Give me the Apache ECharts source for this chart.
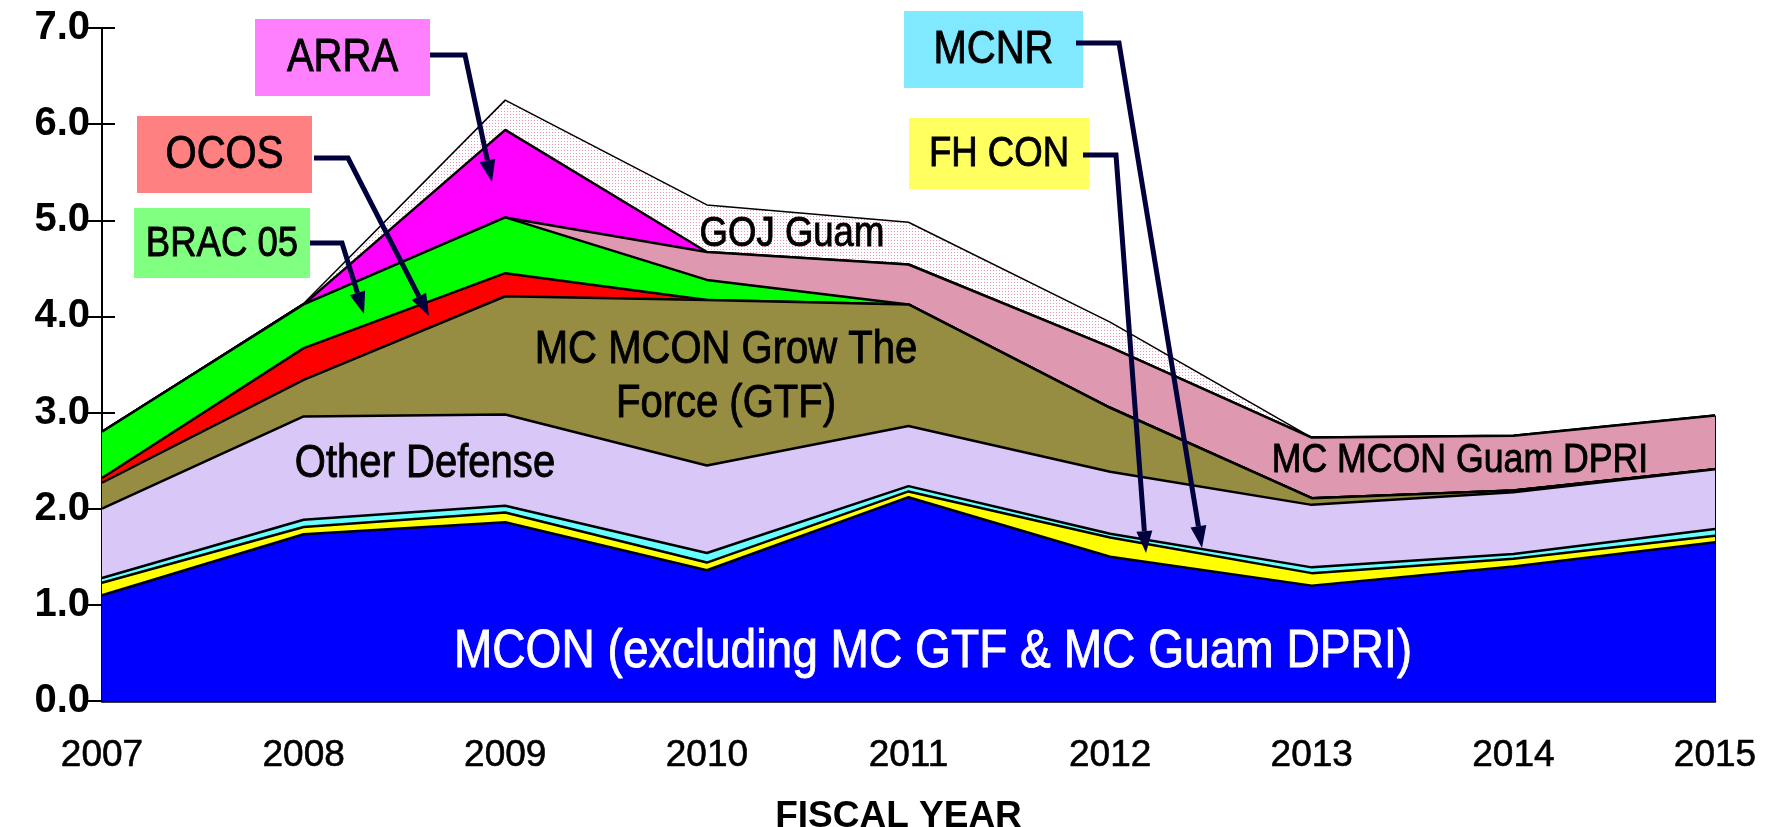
<!DOCTYPE html>
<html>
<head>
<meta charset="utf-8">
<script src="https://cdn.jsdelivr.net/npm/echarts@6/dist/echarts.min.js"></script>
<style>
html, body { margin: 0; padding: 0; background: #fff; }
#chart { width: 1771px; height: 827px; }
</style>
</head>
<body>
<div id="chart"></div>
<script>
// fiscal years and stacked layers, bottom to top (billions)
const years = ['2007', '2008', '2009', '2010', '2011', '2012', '2013', '2014', '2015']
const mcon =         [1.10, 1.735, 1.86, 1.36, 2.12, 1.50, 1.20, 1.40, 1.65]
const fhCon =        [0.13, 0.075, 0.10, 0.08, 0.06, 0.20, 0.13, 0.08, 0.07]
const mcnr =         [0.05, 0.075, 0.07, 0.10, 0.055, 0.04, 0.06, 0.05, 0.07]
const otherDefense = [0.72, 1.075, 0.95, 0.91, 0.625, 0.645, 0.65, 0.64, 0.62]
const gtf =          [0.27, 0.38, 1.23, 1.72, 1.265, 0.665, 0.07, 0.02, 0]
const ocos =         [0.05, 0.33, 0.24, 0, 0, 0, 0, 0, 0]
const brac05 =       [0.48, 0.455, 0.58, 0.21, 0, 0, 0, 0, 0]
const guamDpri =     [0, 0, 0, 0.29, 0.415, 0.63, 0.63, 0.57, 0.56]
const arra =         [0, 0, 0.91, 0, 0, 0, 0, 0, 0]
const gojGuam =      [0, 0.01, 0.31, 0.49, 0.44, 0.26, 0, 0, 0]
const yTicks = ['0.0', '1.0', '2.0', '3.0', '4.0', '5.0', '6.0', '7.0']

const font = '"Liberation Sans", Arial, sans-serif'
const squeeze = 0.87 // narrow look, like the original's condensed face

// dotted fill for GOJ Guam
const dots = document.createElement('canvas')
dots.width = 3
dots.height = 3
const dctx = dots.getContext('2d')
dctx.fillStyle = '#ffffff'
dctx.fillRect(0, 0, 3, 3)
dctx.fillStyle = '#e596b2'
dctx.fillRect(0, 0, 1, 1)

const layers = [
  { name: 'MCON', data: mcon, color: '#0000ff' },
  { name: 'FH CON', data: fhCon, color: '#ffff00' },
  { name: 'MCNR', data: mcnr, color: '#66ffff' },
  { name: 'Other Defense', data: otherDefense, color: '#d9c7f8' },
  { name: 'MC MCON GTF', data: gtf, color: '#968c42' },
  { name: 'OCOS', data: ocos, color: '#ff0000' },
  { name: 'BRAC 05', data: brac05, color: '#00ff00' },
  { name: 'MC MCON Guam DPRI', data: guamDpri, color: '#de99b1' },
  { name: 'ARRA', data: arra, color: '#ff00ff' },
  { name: 'GOJ Guam', data: gojGuam, color: { image: dots, repeat: 'repeat' } },
]

const total2015 = layers.reduce((s, l) => s + l.data[years.length - 1], 0)

const series = layers.map((l, i) => ({
  name: l.name,
  type: 'line',
  stack: 'total',
  symbol: 'none',
  silent: true,
  z: 20 - i,
  lineStyle: { color: '#000', width: i === layers.length - 1 ? 1.5 : 2.5 },
  areaStyle: { color: l.color, opacity: 1 },
  data: l.data,
}))
// right edge of the stacked polygon
series[0].markLine = {
  silent: true,
  symbol: 'none',
  label: { show: false },
  lineStyle: { color: '#000', width: 2, type: 'solid' },
  data: [[{ coord: [years.length - 1, 0] }, { coord: [years.length - 1, total2015] }]],
}

function narrowText(x, y, text, size, color) {
  const c = color || '#000'
  return {
    type: 'text', x: x, y: y, scaleX: squeeze, z: 100,
    style: {
      text: text, fill: c, stroke: c, lineWidth: 0.9, font: size + 'px ' + font,
      align: 'center', verticalAlign: 'middle', lineHeight: size * 1.17,
    },
  }
}

function textBox(x, y, w, h, fill, text, size) {
  return {
    type: 'group', z: 100,
    children: [
      { type: 'rect', z: 100, shape: { x: x, y: y, width: w, height: h }, style: { fill: fill } },
      narrowText(x + w / 2, y + h / 2 + 1, text, size),
    ],
  }
}

function arrow(points) {
  const n = points.length
  const [x1, y1] = points[n - 2]
  const [x2, y2] = points[n - 1]
  const ang = Math.atan2(y2 - y1, x2 - x1)
  const len = 22, half = 8
  const bx = x2 - len * Math.cos(ang), by = y2 - len * Math.sin(ang)
  const px = -Math.sin(ang) * half, py = Math.cos(ang) * half
  const shaft = points.slice(0, n - 1).concat([[bx, by]])
  return {
    type: 'group', z: 100,
    children: [
      { type: 'polyline', z: 100, shape: { points: shaft }, style: { stroke: '#00003c', lineWidth: 5, fill: null } },
      { type: 'polygon', z: 100, shape: { points: [[x2, y2], [bx + px, by + py], [bx - px, by - py]] }, style: { fill: '#00003c' } },
    ],
  }
}

const chart = echarts.init(document.getElementById('chart'))
chart.setOption({
  animation: false,
  backgroundColor: '#fff',
  grid: { left: 102, right: 56, top: 28, bottom: 126, outerBoundsMode: 'none', containLabel: false },
  xAxis: {
    type: 'category',
    boundaryGap: false,
    data: years,
    name: 'FISCAL YEAR',
    nameLocation: 'middle',
    nameGap: 97,
    nameTextStyle: { fontFamily: font, fontWeight: 'bold', fontSize: 37, color: '#000', padding: [0, 20, 0, 0] },
    axisLine: { lineStyle: { color: '#000', width: 2.5 } },
    axisTick: { show: false },
    axisLabel: { fontFamily: font, fontSize: 37, color: '#000', margin: 36, textBorderColor: '#000', textBorderWidth: 0.6 },
    splitLine: { show: false },
  },
  yAxis: [
    {
      type: 'value', min: 0, max: 7, interval: 1,
      axisLine: { show: true, lineStyle: { color: '#000', width: 2 } },
      axisTick: { show: true, length: 14, lineStyle: { color: '#000', width: 2 } },
      axisLabel: {
        fontFamily: font, fontWeight: 'bold', fontSize: 40, color: '#000', margin: 12,
        formatter: v => yTicks[Math.round(v)],
      },
      splitLine: { show: false },
    },
    {
      type: 'value', min: 0, max: 7, interval: 1, position: 'left',
      axisLine: { show: false },
      axisTick: { show: true, inside: true, length: 13, lineStyle: { color: '#000', width: 2 } },
      axisLabel: { show: false },
      splitLine: { show: false },
    },
  ],
  series: series,
  graphic: [
    narrowText(933, 652, 'MCON (excluding MC GTF & MC Guam DPRI)', 53, '#fff'),
    narrowText(425, 464, 'Other Defense', 46),
    narrowText(726, 377, 'MC MCON Grow The\nForce (GTF)', 46),
    narrowText(792, 234, 'GOJ Guam', 42),
    narrowText(1460, 461, 'MC MCON Guam DPRI', 41),
    textBox(255, 19, 175, 77, '#ff80ff', 'ARRA', 46),
    textBox(137, 116, 175, 77, '#ff8080', 'OCOS', 46),
    textBox(134, 208, 176, 70, '#80ff80', 'BRAC 05', 42),
    textBox(904, 11, 179, 77, '#80e8ff', 'MCNR', 46),
    textBox(909, 118, 180, 71, '#ffff60', 'FH CON', 42),
    arrow([[430, 55], [465, 55], [492, 182]]),
    arrow([[314, 158], [348, 158], [429, 316]]),
    arrow([[310, 243], [342, 243], [364, 314]]),
    arrow([[1076, 43], [1119, 43], [1202, 548]]),
    arrow([[1083, 155], [1116, 155], [1146, 553]]),
  ],
})
</script>
</body>
</html>
